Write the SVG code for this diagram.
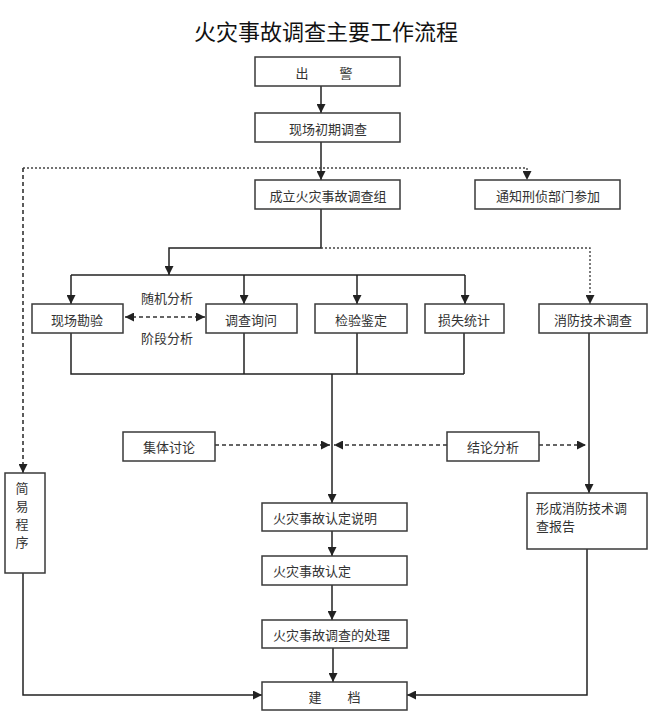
<svg xmlns="http://www.w3.org/2000/svg" width="650" height="722" viewBox="0 0 650 722">
<style>
.box{fill:#fff;stroke:#3a3a3a;stroke-width:1.5}
.t{font-family:"Noto Sans CJK SC","Noto Sans CJK JP",sans-serif;font-size:13px;fill:#333;text-anchor:middle;dominant-baseline:central}
.tl{text-anchor:start}
.ln{fill:none;stroke:#222;stroke-width:1.5}
.dash{fill:none;stroke:#333;stroke-width:1.6;stroke-dasharray:4 3}
.dot{fill:none;stroke:#444;stroke-width:1.4;stroke-dasharray:2 2}
</style>
<defs>
<marker id="ah" markerUnits="userSpaceOnUse" markerWidth="9" markerHeight="9" viewBox="0 0 10 10" refX="10" refY="5" orient="auto-start-reverse">
<path d="M0,0 L10,5 L0,10 z" fill="#222"/>
</marker>
</defs>
<rect width="650" height="722" fill="#fff"/>
<text x="326" y="30" font-family="Noto Sans CJK SC,sans-serif" font-size="22" fill="#111" text-anchor="middle" dominant-baseline="central">火灾事故调查主要工作流程</text>

<g id="connectors">
<path class="ln" d="M321,86 V113" marker-end="url(#ah)"/>
<path class="ln" d="M321,142 V180" marker-end="url(#ah)"/>
<path class="dot" d="M23,168 H527 V180" marker-end="url(#ah)"/>
<path class="dash" d="M23,168 V473" marker-end="url(#ah)"/>
<path class="ln" d="M321,209 V248 H169 V275" marker-end="url(#ah)"/>
<path class="dot" d="M321,248 H590 V304" marker-end="url(#ah)"/>
<path class="ln" d="M71,275 H465"/>
<path class="ln" d="M71,275 V304" marker-end="url(#ah)"/>
<path class="ln" d="M244,275 V304" marker-end="url(#ah)"/>
<path class="ln" d="M357,275 V304" marker-end="url(#ah)"/>
<path class="ln" d="M465,275 V304" marker-end="url(#ah)"/>
<path class="dash" d="M125,317 H205" marker-start="url(#ah)" marker-end="url(#ah)"/>
<path class="ln" d="M71,333 V374 H464 M244,333 V374 M357,333 V374 M464,333 V374"/>
<path class="ln" d="M332,374 V503" marker-end="url(#ah)"/>
<path class="dash" d="M215,445 H330" marker-end="url(#ah)"/>
<path class="dash" d="M447,445 H334" marker-end="url(#ah)"/>
<path class="dash" d="M539,445 H586" marker-end="url(#ah)"/>
<path class="ln" d="M589,333 V493" marker-end="url(#ah)"/>
<path class="ln" d="M332,531 V556" marker-end="url(#ah)"/>
<path class="ln" d="M332,585 V620" marker-end="url(#ah)"/>
<path class="ln" d="M333,648 V682" marker-end="url(#ah)"/>
<path class="ln" d="M23,573 V695 H262" marker-end="url(#ah)"/>
<path class="ln" d="M587,549 V695 H407" marker-end="url(#ah)"/>
</g>

<g id="n_chujing"><rect class="box" x="255" y="57" width="145" height="29"/><text class="t" y="72"><tspan x="302">出</tspan><tspan x="346">警</tspan></text></g>
<g id="n_xianchang"><rect class="box" x="255" y="113" width="145" height="29"/><text class="t" x="328" y="128">现场初期调查</text></g>
<g id="n_chengli"><rect class="box" x="255" y="180" width="145" height="29"/><text class="t" x="328" y="195">成立火灾事故调查组</text></g>
<g id="n_tongzhi"><rect class="box" x="475" y="180" width="145" height="29"/><text class="t" x="548" y="195">通知刑侦部门参加</text></g>
<g id="n_kanyan"><rect class="box" x="32" y="304" width="91" height="29"/><text class="t" x="77" y="319">现场勘验</text></g>
<g id="n_xunwen"><rect class="box" x="206" y="304" width="91" height="29"/><text class="t" x="251" y="319">调查询问</text></g>
<g id="n_jianyan"><rect class="box" x="315" y="304" width="92" height="29"/><text class="t" x="361" y="319">检验鉴定</text></g>
<g id="n_sunshi"><rect class="box" x="425" y="304" width="79" height="29"/><text class="t" x="464" y="319">损失统计</text></g>
<g id="n_xiaofang"><rect class="box" x="539" y="304" width="108" height="29"/><text class="t" x="593" y="319">消防技术调查</text></g>
<g id="l_suiji"><text class="t" x="167" y="297">随机分析</text></g>
<g id="l_jieduan"><text class="t" x="167" y="337">阶段分析</text></g>
<g id="n_jiti"><rect class="box" x="123" y="432" width="92" height="29"/><text class="t" x="169" y="446">集体讨论</text></g>
<g id="n_jielun"><rect class="box" x="447" y="432" width="92" height="29"/><text class="t" x="493" y="446">结论分析</text></g>
<g id="n_jianyi"><rect class="box" x="5" y="473" width="40" height="100"/><text class="t" x="22"><tspan x="22" y="487">简</tspan><tspan x="22" y="505">易</tspan><tspan x="22" y="523">程</tspan><tspan x="22" y="541">序</tspan></text></g>
<g id="n_xingcheng"><rect class="box" x="527" y="493" width="120" height="56"/><text class="t tl"><tspan x="536" y="507">形成消防技术调</tspan><tspan x="536" y="525">查报告</tspan></text></g>
<g id="n_shuoming"><rect class="box" x="262" y="503" width="145" height="28"/><text class="t tl" x="273" y="517">火灾事故认定说明</text></g>
<g id="n_rending"><rect class="box" x="262" y="556" width="145" height="29"/><text class="t tl" x="273" y="570">火灾事故认定</text></g>
<g id="n_chuli"><rect class="box" x="262" y="620" width="145" height="28"/><text class="t tl" x="273" y="634">火灾事故调查的处理</text></g>
<g id="n_jiandang"><rect class="box" x="262" y="682" width="145" height="28"/><text class="t" y="696"><tspan x="315">建</tspan><tspan x="354">档</tspan></text></g>
</svg>
